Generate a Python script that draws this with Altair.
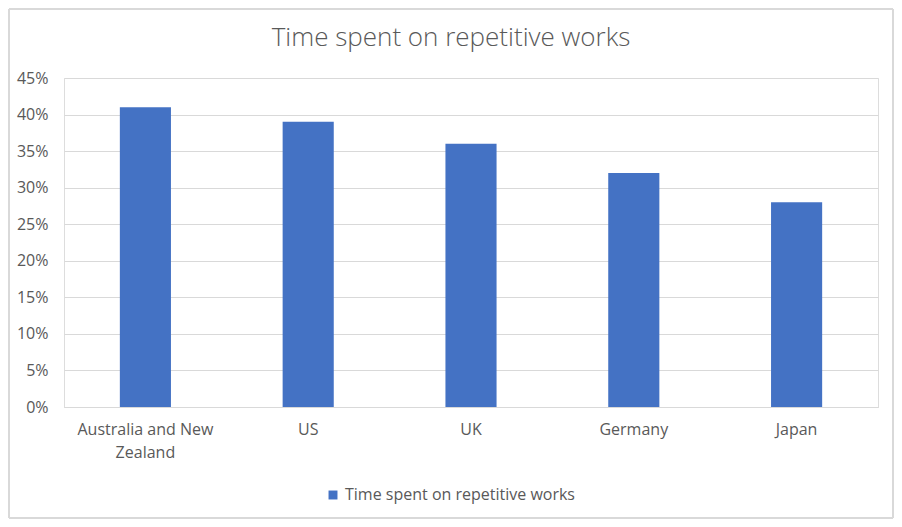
import altair as alt
import pandas as pd

countries = ["Australia and New Zealand", "US", "UK", "Germany", "Japan"]
values = [0.41, 0.39, 0.36, 0.32, 0.28]
series_name = "Time spent on repetitive works"
chart_title = "Time spent on repetitive works"
y_ticks = [0, 0.05, 0.10, 0.15, 0.20, 0.25, 0.30, 0.35, 0.40, 0.45]

df = pd.DataFrame({"country": countries, "value": values, "series": [series_name] * len(countries)})
title_df = pd.DataFrame({"t": [chart_title]})

FONT = "Open Sans"
GREY = "#595959"
W, H = 814, 329
FS = 16

bars = alt.Chart(df).mark_bar(color="#4472C4").encode(
    x=alt.X("country:N", sort=countries, title=None,
            scale=alt.Scale(paddingInner=0.686, paddingOuter=0.343),
            axis=alt.Axis(labelAngle=0, ticks=False, domain=True, domainColor="#D9D9D9",
                          labelPadding=14, labelFontSize=FS, labelColor=GREY, labelFont=FONT,
                          labelLineHeight=23,
                          labelExpr="datum.label == 'Australia and New Zealand' ? ['Australia and New', 'Zealand'] : datum.label")),
    y=alt.Y("value:Q", title=None,
            scale=alt.Scale(domain=[0, 0.45], nice=False),
            axis=alt.Axis(values=y_ticks, format=".0%", ticks=False, domain=False,
                          gridColor="#D9D9D9", gridWidth=1, labelPadding=16,
                          labelFontSize=FS, labelColor=GREY, labelFont=FONT)),
    color=alt.Color("series:N", scale=alt.Scale(range=["#4472C4"]), title=None,
                    legend=alt.Legend(orient="none", legendX=261, legendY=409, direction="horizontal",
                                      symbolType="square", symbolSize=80, symbolStrokeWidth=0,
                                      labelFontSize=FS, labelColor=GREY, labelFont=FONT,
                                      labelLimit=0, padding=0, labelOffset=4)),
)

title_mark = alt.Chart(title_df).mark_text(font=FONT, fontSize=26, fontWeight=300, color=GREY,
                                            align="center", baseline="middle", clip=False).encode(
    text="t:N", x=alt.value(387), y=alt.value(-40))

border_color = "#D9D9D9"
def rule(**kw):
    return alt.Chart(title_df).mark_rule(color=border_color, strokeWidth=2, clip=False).encode(**kw)

border = [
    rule(x=alt.value(-55), x2=alt.value(W + 15), y=alt.value(-69)),
    rule(x=alt.value(-55), x2=alt.value(W + 15), y=alt.value(H + 111)),
    rule(x=alt.value(-55), y=alt.value(-69), y2=alt.value(H + 111)),
    rule(x=alt.value(W + 15), y=alt.value(-69), y2=alt.value(H + 111)),
]

chart = alt.layer(bars, title_mark, *border).properties(
    width=W, height=H,
    autosize=alt.AutoSizeParams(type="none"),
    padding={"left": 56, "top": 70, "right": 16, "bottom": 112},
).configure_view(stroke=None).configure(background="white")

chart.save("out.html", embed_options={"renderer": "svg", "actions": False})
